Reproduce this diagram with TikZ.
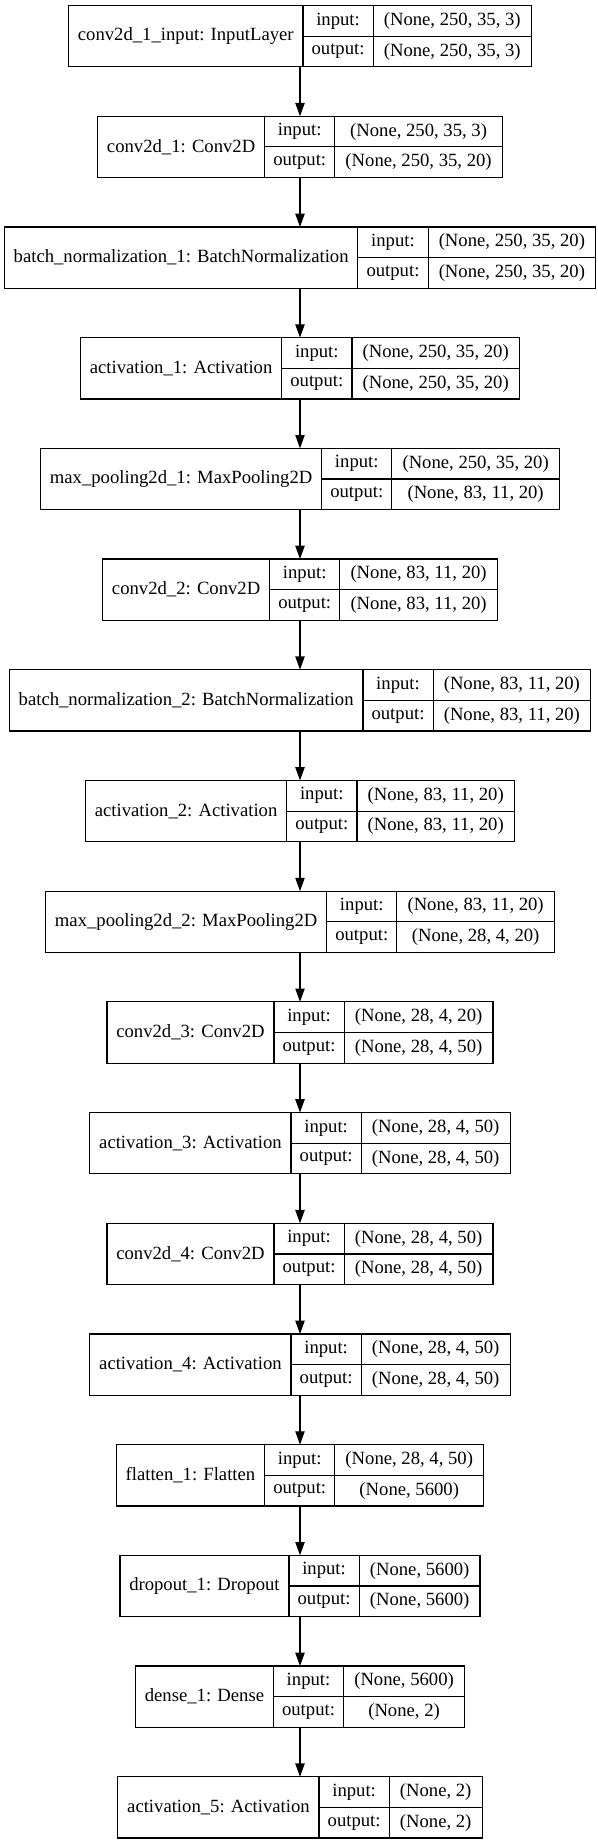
\documentclass[tikz,border=0pt]{standalone}
\usepackage{fontspec}
\setmainfont{Liberation Serif}
\usetikzlibrary{arrows.meta}

\newcommand{\layerfont}{\fontsize{14}{16}\selectfont}
\newcommand{\measure}[2]{\settowidth{#1}{\pgfinterruptpicture\layerfont #2\endpgfinterruptpicture}}
\newlength{\namewd}
\newlength{\shapewd}
\newlength{\tmpwd}
\newlength{\iowd}
\settowidth{\iowd}{\layerfont output:}
\addtolength{\iowd}{13pt}

\tikzset{
  record/.style={inner sep=0pt,outer sep=0pt,minimum height=46pt},
  cell/.style={draw,line width=.9pt,inner sep=0pt,outer sep=0pt,minimum height=23pt,font=\layerfont},
  stream/.style={line width=.9pt,-{Triangle[length=10pt,width=7pt]}}
}

% #1 node name, #2 y, #3 layer, #4 input shape, #5 output shape
\newcommand{\layer}[5]{%
  \measure{\namewd}{#3}\addtolength{\namewd}{14pt}%
  \measure{\shapewd}{#4}\measure{\tmpwd}{#5}%
  \ifdim\tmpwd>\shapewd \setlength{\shapewd}{\tmpwd}\fi
  \addtolength{\shapewd}{16pt}%
  \setlength{\tmpwd}{\dimexpr\namewd+\iowd+\shapewd\relax}%
  \node[record,minimum width=\tmpwd] (#1) at (300,#2) {};
  \node[cell,minimum width=\namewd,minimum height=46pt,anchor=north west] (#1-name) at (#1.north west) {#3};
  \node[cell,minimum width=\iowd,anchor=north west] (#1-in) at (#1-name.north east) {input:};
  \node[cell,minimum width=\iowd,anchor=north west] (#1-out) at (#1-in.south west) {output:};
  \node[cell,minimum width=\shapewd,anchor=north west] (#1-ins) at (#1-in.north east) {#4};
  \node[cell,minimum width=\shapewd,anchor=north west] (#1-outs) at (#1-out.north east) {#5};
}

\begin{document}
\begin{tikzpicture}[x=.75pt,y=-.75pt]
  \fill[white] (0,0) rectangle (597,1844);
  \useasboundingbox (0,0) rectangle (597,1844);

  \layer{input}{36.2}{conv2d\_1\_input: InputLayer}{(None, 250, 35, 3)}{(None, 250, 35, 3)}
  \layer{conv1}{146.9}{conv2d\_1: Conv2D}{(None, 250, 35, 3)}{(None, 250, 35, 20)}
  \layer{bn1}{257.6}{batch\_normalization\_1: BatchNormalization}{(None, 250, 35, 20)}{(None, 250, 35, 20)}
  \layer{act1}{368.3}{activation\_1: Activation}{(None, 250, 35, 20)}{(None, 250, 35, 20)}
  \layer{pool1}{479.0}{max\_pooling2d\_1: MaxPooling2D}{(None, 250, 35, 20)}{(None, 83, 11, 20)}
  \layer{conv2}{589.7}{conv2d\_2: Conv2D}{(None, 83, 11, 20)}{(None, 83, 11, 20)}
  \layer{bn2}{700.4}{batch\_normalization\_2: BatchNormalization}{(None, 83, 11, 20)}{(None, 83, 11, 20)}
  \layer{act2}{811.1}{activation\_2: Activation}{(None, 83, 11, 20)}{(None, 83, 11, 20)}
  \layer{pool2}{921.8}{max\_pooling2d\_2: MaxPooling2D}{(None, 83, 11, 20)}{(None, 28, 4, 20)}
  \layer{conv3}{1032.5}{conv2d\_3: Conv2D}{(None, 28, 4, 20)}{(None, 28, 4, 50)}
  \layer{act3}{1143.2}{activation\_3: Activation}{(None, 28, 4, 50)}{(None, 28, 4, 50)}
  \layer{conv4}{1253.9}{conv2d\_4: Conv2D}{(None, 28, 4, 50)}{(None, 28, 4, 50)}
  \layer{act4}{1364.6}{activation\_4: Activation}{(None, 28, 4, 50)}{(None, 28, 4, 50)}
  \layer{flatten}{1475.3}{flatten\_1: Flatten}{(None, 28, 4, 50)}{(None, 5600)}
  \layer{dropout}{1586.0}{dropout\_1: Dropout}{(None, 5600)}{(None, 5600)}
  \layer{dense}{1696.7}{dense\_1: Dense}{(None, 5600)}{(None, 2)}
  \layer{act5}{1807.4}{activation\_5: Activation}{(None, 2)}{(None, 2)}

  \foreach \a/\b in {input/conv1,conv1/bn1,bn1/act1,act1/pool1,pool1/conv2,conv2/bn2,
      bn2/act2,act2/pool2,pool2/conv3,conv3/act3,act3/conv4,conv4/act4,act4/flatten,
      flatten/dropout,dropout/dense,dense/act5}
    \draw[stream] (\a) -- (\b);
\end{tikzpicture}
\end{document}
